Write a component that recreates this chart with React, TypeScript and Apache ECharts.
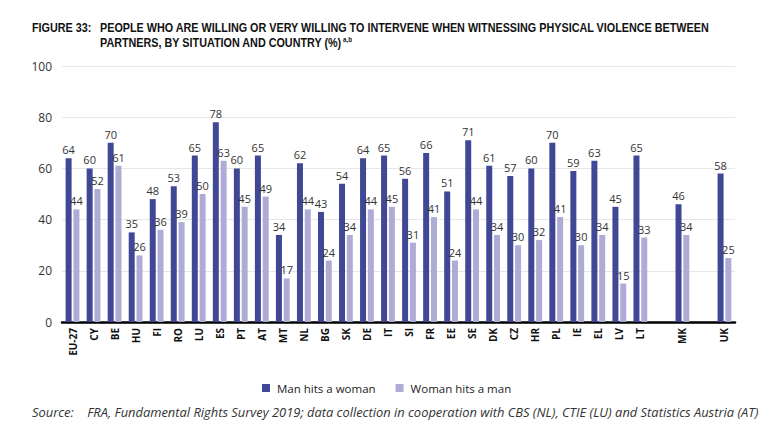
import React, { useEffect, useRef } from "react";
import * as echarts from "echarts";

const categories = [
  "EU-27", "CY", "BE", "HU", "FI", "RO", "LU", "ES", "PT", "AT", "MT", "NL", "BG", "SK", "DE", "IT",
  "SI", "FR", "EE", "SE", "DK", "CZ", "HR", "PL", "IE", "EL", "LV", "LT", "", "MK", "", "UK",
];
const manHitsWoman: (number | null)[] = [
  64, 60, 70, 35, 48, 53, 65, 78, 60, 65, 34, 62, 43, 54, 64, 65,
  56, 66, 51, 71, 61, 57, 60, 70, 59, 63, 45, 65, null, 46, null, 58,
];
const womanHitsMan: (number | null)[] = [
  44, 52, 61, 26, 36, 39, 50, 63, 45, 49, 17, 44, 24, 34, 44, 45,
  31, 41, 24, 44, 34, 30, 32, 41, 30, 34, 15, 33, null, 34, null, 25,
];
const yTicks = [0, 20, 40, 60, 80, 100];

const DARK = "#404896";
const LIGHT = "#aeabd5";
const FONT = "'Open Sans', 'Noto Sans', sans-serif";
const TITLE_FONT = "'Liberation Sans', Arial, sans-serif";
const TITLE_SCALE = 0.9;

export default function App() {
  const ref = useRef<HTMLDivElement>(null);
  useEffect(() => {
    if (!ref.current) return;
    const chart = echarts.init(ref.current, null, { renderer: "svg" });
    const labelCfg = {
      show: true,
      position: "top" as const,
      distance: 3,
      color: "#333",
      fontSize: 11,
      fontFamily: FONT,
    };
    const titleStyle = { fontSize: 12, fontWeight: "bold", fill: "#111", fontFamily: TITLE_FONT };
    chart.setOption({
      animation: false,
      backgroundColor: "#fff",
      grid: { left: 62, right: 44, top: 66, bottom: 114, containLabel: false },
      legend: {
        left: 257,
        top: 377,
        icon: "rect",
        itemWidth: 8,
        itemHeight: 8,
        itemGap: 20,
        textStyle: { fontSize: 11.5, color: "#222", fontFamily: FONT, padding: [0, 0, 0, 2] },
        data: ["Man hits a woman", "Woman hits a man"],
      },
      xAxis: {
        type: "category",
        data: categories,
        axisLine: { lineStyle: { color: "#000", width: 2.5 } },
        axisTick: { show: false },
        axisLabel: {
          interval: 0,
          rotate: 90,
          fontSize: 10,
          fontWeight: "bold",
          color: "#111",
          fontFamily: FONT,
          margin: 6,
        },
      },
      yAxis: {
        type: "value",
        min: yTicks[0],
        max: yTicks[yTicks.length - 1],
        interval: 20,
        axisLine: { show: false },
        axisTick: { show: false },
        splitLine: { lineStyle: { color: "#e6e6e6", width: 1 } },
        axisLabel: { fontSize: 12, color: "#333", fontFamily: FONT, margin: 10 },
      },
      series: [
        {
          name: "Man hits a woman",
          type: "bar",
          data: manHitsWoman,
          barWidth: 6,
          barGap: "30%",
          itemStyle: { color: DARK },
          label: labelCfg,
        },
        {
          name: "Woman hits a man",
          type: "bar",
          data: womanHitsMan,
          barWidth: 6,
          itemStyle: { color: LIGHT },
          label: labelCfg,
        },
      ],
      graphic: [
        {
          type: "text",
          x: 32,
          y: 22,
          scaleX: TITLE_SCALE,
          style: { text: "FIGURE 33:", ...titleStyle },
        },
        {
          type: "text",
          x: 100,
          y: 22,
          scaleX: TITLE_SCALE,
          style: {
            text: "PEOPLE WHO ARE WILLING OR VERY WILLING TO INTERVENE WHEN WITNESSING PHYSICAL VIOLENCE BETWEEN",
            ...titleStyle,
          },
        },
        {
          type: "text",
          x: 100,
          y: 36,
          scaleX: TITLE_SCALE,
          style: {
            text: "{m|PARTNERS, BY SITUATION AND COUNTRY (%)}{s|a,b}",
            fontFamily: TITLE_FONT,
            rich: {
              m: { fontSize: 12, fontWeight: "bold", fill: "#111", fontFamily: TITLE_FONT },
              s: { fontSize: 7, fontWeight: "bold", fill: "#111", fontFamily: TITLE_FONT, verticalAlign: "top", padding: [0, 0, 6, 1] },
            },
          },
        },
        {
          type: "text",
          x: 32,
          y: 405,
          style: {
            text: "Source:    FRA, Fundamental Rights Survey 2019; data collection in cooperation with CBS (NL), CTIE (LU) and Statistics Austria (AT)",
            fontSize: 12.9,
            fontStyle: "italic",
            fill: "#333",
            fontFamily: FONT,
          },
        },
      ],
    });
    return () => chart.dispose();
  }, []);
  return <div ref={ref} style={{ position: "absolute", left: 0, top: 0, width: 779, height: 436 }} />;
}
